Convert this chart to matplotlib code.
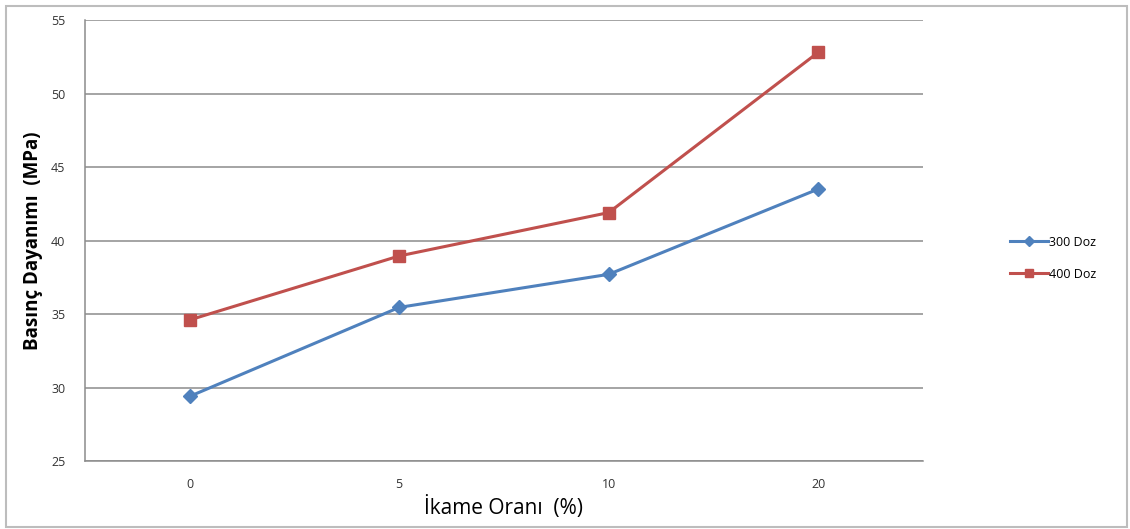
import matplotlib
matplotlib.use("Agg")
import matplotlib.pyplot as plt
from matplotlib.patches import Rectangle

categories = ["0", "5", "10", "20"]
doz300 = [29.4, 35.45, 37.7, 43.5]
doz400 = [34.6, 38.95, 41.9, 52.8]
yticks = [25, 30, 35, 40, 45, 50, 55]

plt.rcParams['font.family'] = ['Open Sans', 'DejaVu Sans']

fig = plt.figure(figsize=(11.3, 5.29), dpi=100)
fig.patch.set_facecolor("white")
fig.add_artist(Rectangle((0.005, 0.004), 0.992, 0.985, transform=fig.transFigure,
                         fill=False, edgecolor="#bdbdbd", linewidth=1.5))

ax = fig.add_axes([0.0752, 0.1285, 0.7416, 0.8337])
x = list(range(len(categories)))
ax.plot(x, doz300, color="#4F81BD", linewidth=2.2, marker="D", markersize=7,
        label="300 Doz")
ax.plot(x, doz400, color="#C0504D", linewidth=2.2, marker="s", markersize=8,
        label="400 Doz")

ax.set_xlim(-0.5, len(categories) - 0.5)
ax.set_ylim(25, 55)
ax.set_xticks(x)
ax.set_xticklabels(categories)
ax.set_yticks(yticks)
ax.grid(axis="y", color="#8c8c8c", linewidth=1.1)
ax.set_axisbelow(True)
for side in ("top", "right"):
    ax.spines[side].set_visible(False)
for side in ("left", "bottom"):
    ax.spines[side].set_color("#8c8c8c")
    ax.spines[side].set_linewidth(1.1)
ax.tick_params(axis="both", length=0, labelsize=9, colors="#333333")
ax.tick_params(axis="x", pad=12)
ax.tick_params(axis="y", pad=14)

ax.set_xlabel("İkame Oranı  (%)", fontsize=15, labelpad=4)
ax.set_ylabel("Basınç Dayanımı  (MPa)", fontsize=13.5, fontweight="bold",
              labelpad=6)

fig.legend(loc="center left", bbox_to_anchor=(0.884, 0.512), frameon=False,
           fontsize=9, handlelength=3.0, handletextpad=0.1, labelspacing=1.5,
           markerscale=0.75)

fig.savefig("out.png", dpi=100, facecolor="white")
